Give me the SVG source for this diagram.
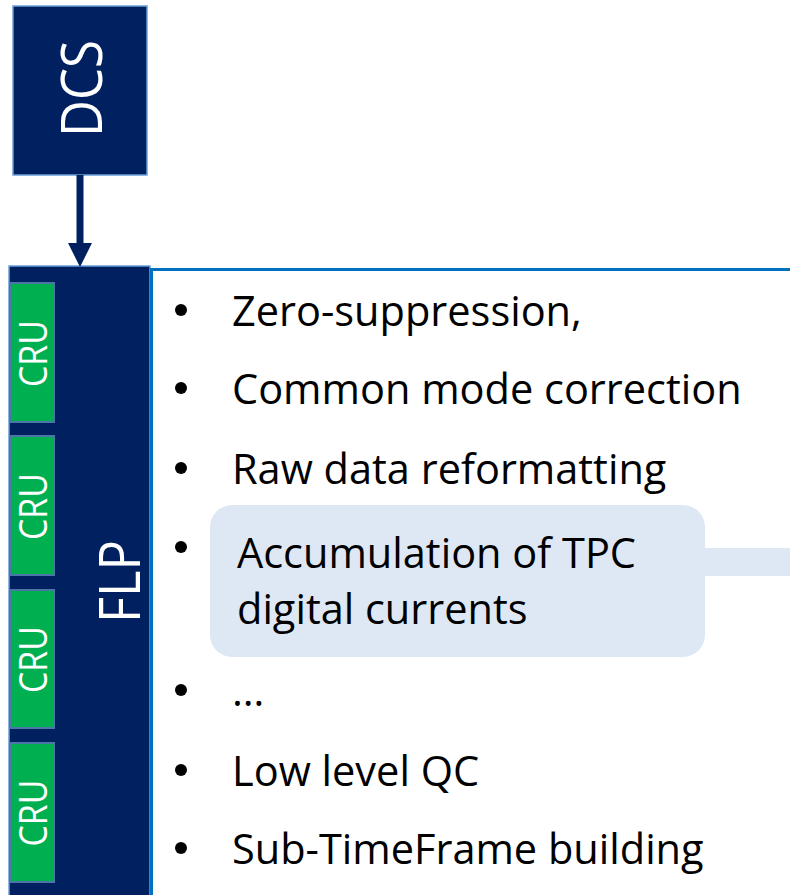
<svg xmlns="http://www.w3.org/2000/svg" width="790" height="895" viewBox="0 0 790 895">
  <style>
    .navy { fill: #002060; stroke: #6a9fd8; stroke-width: 1.5; }
    .cru { fill: #00b050; stroke: #4a76a8; stroke-width: 2; }
    .vlabel { font-family: "Open Sans", "Noto Sans", sans-serif; fill: #ffffff; text-anchor: middle; }
    .item { font-family: "Open Sans", "Noto Sans", sans-serif; font-size: 41.5px; fill: #000000; }
    .dot { fill: #000000; }
  </style>
  <defs>
    <marker id="arrowhead" markerUnits="userSpaceOnUse" markerWidth="24" markerHeight="24" refX="0" refY="12" orient="auto">
      <path d="M0,0 L24,12 L0,24 Z" fill="#002060"/>
    </marker>
  </defs>

  <rect width="790" height="895" fill="#ffffff"/>

  <!-- DCS -->
  <g id="dcs">
    <rect class="navy" x="13" y="6" width="134" height="169"/>
    <text class="vlabel" font-size="57" transform="translate(102,88.5) rotate(-90)" textLength="97" lengthAdjust="spacingAndGlyphs">DCS</text>
  </g>

  <!-- FLP with its task list -->
  <g id="flp">
    <rect class="navy" x="9" y="266" width="141" height="640"/>
    <text class="vlabel" font-size="57" transform="translate(140,581.5) rotate(-90)" textLength="83" lengthAdjust="spacingAndGlyphs">FLP</text>
  </g>

  <g id="cru-1">
    <rect class="cru" x="10" y="283" width="44" height="139"/>
    <text class="vlabel" font-size="39" transform="translate(47,353.5) rotate(-90)" textLength="67" lengthAdjust="spacingAndGlyphs">CRU</text>
  </g>
  <g id="cru-2">
    <rect class="cru" x="10" y="436" width="44" height="139"/>
    <text class="vlabel" font-size="39" transform="translate(47,506.5) rotate(-90)" textLength="67" lengthAdjust="spacingAndGlyphs">CRU</text>
  </g>
  <g id="cru-3">
    <rect class="cru" x="10" y="590" width="44" height="138"/>
    <text class="vlabel" font-size="39" transform="translate(47,659.5) rotate(-90)" textLength="67" lengthAdjust="spacingAndGlyphs">CRU</text>
  </g>
  <g id="cru-4">
    <rect class="cru" x="10" y="743" width="44" height="139"/>
    <text class="vlabel" font-size="39" transform="translate(47,813) rotate(-90)" textLength="67" lengthAdjust="spacingAndGlyphs">CRU</text>
  </g>

  <!-- processing tasks panel -->
  <g id="tasks">
    <rect x="151.5" y="269.5" width="660" height="640" fill="#ffffff" stroke="#0070c0" stroke-width="3"/>

    <circle class="dot" cx="181" cy="310" r="6"/>
    <text class="item" x="232" y="326">Zero-suppression,</text>

    <circle class="dot" cx="181" cy="388" r="6"/>
    <text class="item" x="232" y="404">Common mode correction</text>

    <circle class="dot" cx="181" cy="468" r="6"/>
    <text class="item" x="232" y="484">Raw data reformatting</text>

    <circle class="dot" cx="181" cy="547" r="6"/>

    <circle class="dot" cx="181" cy="690" r="6"/>
    <text class="item" x="232" y="706">…</text>

    <circle class="dot" cx="181" cy="770" r="6"/>
    <text class="item" x="232" y="786">Low level QC</text>

    <circle class="dot" cx="181" cy="848" r="6"/>
    <text class="item" x="232" y="864">Sub-TimeFrame building</text>
  </g>

  <!-- highlighted task -->
  <g id="digital-currents">
    <rect x="700" y="548" width="100" height="28" fill="#dee8f4"/>
    <rect x="210" y="505" width="495" height="152" rx="22" ry="22" fill="#dee8f4"/>
    <text class="item" x="237" y="568">Accumulation of TPC</text>
    <text class="item" x="237" y="624">digital currents</text>
  </g>

  <!-- connectors -->
  <g id="connectors">
    <path d="M80,175 L80,243" stroke="#002060" stroke-width="7" fill="none" marker-end="url(#arrowhead)"/>
  </g>
</svg>
